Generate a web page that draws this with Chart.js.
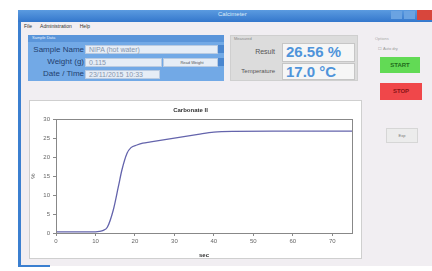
<!DOCTYPE html>
<html lang="en">

<head>
  <meta charset="UTF-8" />
  <title>Calcimeter</title>
  <script src="https://cdn.jsdelivr.net/npm/chart.js"></script>
  <style>
    html, body { margin: 0; padding: 0; }
    body {
      width: 432px; height: 271px; overflow: hidden; position: relative;
      background: #ffffff; font-family: "Liberation Sans", Arial, sans-serif;
    }
    .abs { position: absolute; }
    #win { left: 18px; top: 10px; width: 414px; height: 256px; background: #f1eef2;
      border-left: 3px solid #3b7fd0; box-sizing: border-box; }
    #titlebar { left: 18px; top: 10px; width: 414px; height: 12px;
      background: linear-gradient(#5b9be0, #3477cc); }
    #titlebar span { position: absolute; left: 200px; top: 1px; font-size: 6px; color: #dfeaf8; }
    #closeBtn { left: 417px; top: 10px; width: 15px; height: 10px; background: #d8463c; }
    #maxBtn { left: 404px; top: 11px; width: 11px; height: 8px; background: #6aa3e2; }
    #minBtn { left: 391px; top: 11px; width: 11px; height: 8px; background: #6aa3e2; }
    #menu { left: 24px; top: 23px; font-size: 5px; color: #333; }
    #menu span { margin-right: 8px; }
    #sample { left: 28px; top: 35px; width: 196px; height: 46px; background: #72a9e6; }
    #sampleHead { left: 28px; top: 35px; width: 196px; height: 7px; background: #5a95da; }
    #sampleHead span { position: absolute; left: 4px; top: 0; font-size: 4px; color: #e8f0fa; }
    .lbl { font-size: 8px; color: #22406e; text-align: right; width: 60px; }
    .box { background: #e6edf6; border: 1px solid #b9cbe2; box-sizing: border-box;
      font-size: 7px; color: #8796ad; padding-left: 3px; line-height: 8px; }
    .sq { width: 6px; height: 8px; background: #4b86cf; }
    #result { left: 230px; top: 35px; width: 128px; height: 46px; background: #dcdcdc;
      border: 1px solid #cfcfcf; box-sizing: border-box; }
    .rlbl { font-size: 7px; color: #555; text-align: right; width: 50px; }
    .rbox { background: #f6f6f6; border: 1px solid #c6c6c6; box-sizing: border-box;
      font-size: 15px; font-weight: bold; color: #4f94da; padding-left: 3px; line-height: 16px; }
    .btn { box-sizing: border-box; font-size: 6px; font-weight: bold; text-align: center; }
    #chartPanel { left: 29px; top: 100px; width: 333px; height: 159px; background: #ffffff;
      border: 1px solid #cfcfcf; box-sizing: border-box; }
    #chartBox { left: 29px; top: 102px; width: 333px; height: 157px; }
  </style>
</head>

<body>
  <div id="win" class="abs"></div>
  <div id="titlebar" class="abs"><span>Calcimeter</span></div>
  <div id="minBtn" class="abs"></div>
  <div id="maxBtn" class="abs"></div>
  <div id="closeBtn" class="abs"></div>
  <div id="menu" class="abs"><span>File</span><span>Administration</span><span>Help</span></div>

  <div id="sample" class="abs"></div>
  <div id="sampleHead" class="abs"><span>Sample Data</span></div>
  <div class="abs lbl" style="left:24px; top:45px;">Sample Name</div>
  <div class="abs lbl" style="left:24px; top:57px;">Weight (g)</div>
  <div class="abs lbl" style="left:24px; top:69px;">Date / Time</div>
  <div class="abs box" style="left:85px; top:45px; width:133px; height:9px;">NIPA (hot water)</div>
  <div class="abs sq" style="left:218px; top:45px;"></div>
  <div class="abs box" style="left:85px; top:58px; width:77px; height:9px;">0.115</div>
  <div class="abs box" style="left:163px; top:58px; width:55px; height:9px; font-size:4px; color:#555; text-align:center;">Read Weight</div>
  <div class="abs sq" style="left:218px; top:58px;"></div>
  <div class="abs box" style="left:85px; top:70px; width:75px; height:9px;">23/11/2015 10:33</div>

  <div id="result" class="abs"></div>
  <div class="abs" style="left:234px; top:36px; font-size:4px; color:#888;">Measured</div>
  <div class="abs rlbl" style="left:225px; top:48px;">Result</div>
  <div class="abs rlbl" style="left:225px; top:68px; font-size:6px;">Temperature</div>
  <div class="abs rbox" style="left:282px; top:43px; width:73px; height:19px;">26.56 %</div>
  <div class="abs rbox" style="left:282px; top:63px; width:73px; height:17px;">17.0 °C</div>

  <div class="abs" style="left:375px; top:36px; font-size:4px; color:#aaa;">Options</div>
  <div class="abs" style="left:378px; top:46px; font-size:4px; color:#999;">&#9744; Auto dry</div>
  <div class="abs btn" style="left:380px; top:57px; width:40px; height:16px; background:#62da55; color:#1f6a1a; line-height:16px;">START</div>
  <div class="abs btn" style="left:380px; top:83px; width:42px; height:17px; background:#f0474a; color:#8a1416; line-height:17px;">STOP</div>
  <div class="abs btn" style="left:386px; top:128px; width:32px; height:15px; background:#ececec; border:1px solid #d6d6d6; color:#777; font-weight:normal; line-height:13px; font-size:4px;">Exp</div>

  <div id="chartPanel" class="abs"></div>
  <div id="chartBox" class="abs"><canvas id="carbChart"></canvas></div>
  <div class="abs" style="left:18px; top:265px; width:32px; height:2px; background:#3b7fd0;"></div>

  <script>
    // readings: time (sec) and carbonate (%)
    const timeSec = [0, 5, 9, 10, 11, 12, 13, 14.5, 15.8, 16.7, 18, 19, 20.5, 22, 24, 30, 36, 40, 45, 55, 65, 75];
    const carbonatePct = [0.3, 0.3, 0.3, 0.3, 0.4, 0.7, 1.5, 6, 12.2, 16.6, 21, 22.5, 23.2, 23.7, 24, 25, 26, 26.6, 26.8, 26.85, 26.85, 26.85];
    const xTicks = [0, 10, 20, 30, 40, 50, 60, 70];
    const yTicks = [0, 5, 10, 15, 20, 25, 30];

    const points = timeSec.map((t, i) => ({ x: t, y: carbonatePct[i] }));

    // frame round the plot area
    const frame = {
      id: "frame",
      afterDraw(chart) {
        const a = chart.chartArea, c = chart.ctx;
        c.save();
        c.strokeStyle = "#888";
        c.lineWidth = 1;
        c.strokeRect(Math.round(a.left) + 0.5, Math.round(a.top) + 0.5,
          Math.round(a.right - a.left), Math.round(a.bottom - a.top));
        c.restore();
      }
    };

    const tickFont = { family: "Liberation Sans", size: 6 };

    new Chart(document.getElementById("carbChart"), {
      type: "line",
      data: {
        datasets: [{
          label: "Carbonate",
          data: points,
          borderColor: "#6464ac",
          borderWidth: 1.3,
          pointRadius: 0,
          cubicInterpolationMode: "monotone",
          fill: false
        }]
      },
      options: {
        responsive: true,
        maintainAspectRatio: false,
        animation: false,
        layout: { padding: { right: 10, left: 0, bottom: 0, top: 0 } },
        plugins: {
          legend: { display: false },
          tooltip: { enabled: false },
          title: {
            display: true,
            text: "Carbonate II",
            color: "#333",
            font: { family: "Liberation Sans", size: 6, weight: "bold" },
            padding: { top: 5, bottom: 5 }
          }
        },
        scales: {
          x: {
            type: "linear",
            min: 0,
            max: 75,
            afterBuildTicks: s => { s.ticks = xTicks.map(v => ({ value: v })); },
            afterFit: s => { s.height = 26; },
            grid: { drawOnChartArea: false, tickLength: 3, color: "#888" },
            border: { color: "#888" },
            ticks: { color: "#666", font: tickFont, padding: 2, maxRotation: 0 },
            title: { display: true, text: "sec", color: "#333", font: { family: "Liberation Sans", size: 6, weight: "bold" }, padding: { top: 1, bottom: 0 } }
          },
          y: {
            min: 0,
            max: 30,
            afterBuildTicks: s => { s.ticks = yTicks.map(v => ({ value: v })); },
            afterFit: s => { s.width = 27; },
            grid: { drawOnChartArea: false, tickLength: 3, color: "#888" },
            border: { color: "#888" },
            ticks: { color: "#666", font: tickFont, padding: 3 },
            title: { display: true, text: "%", color: "#555", font: { family: "Liberation Sans", size: 6 }, padding: 1 }
          }
        }
      },
      plugins: [frame]
    });
  </script>
</body>

</html>
